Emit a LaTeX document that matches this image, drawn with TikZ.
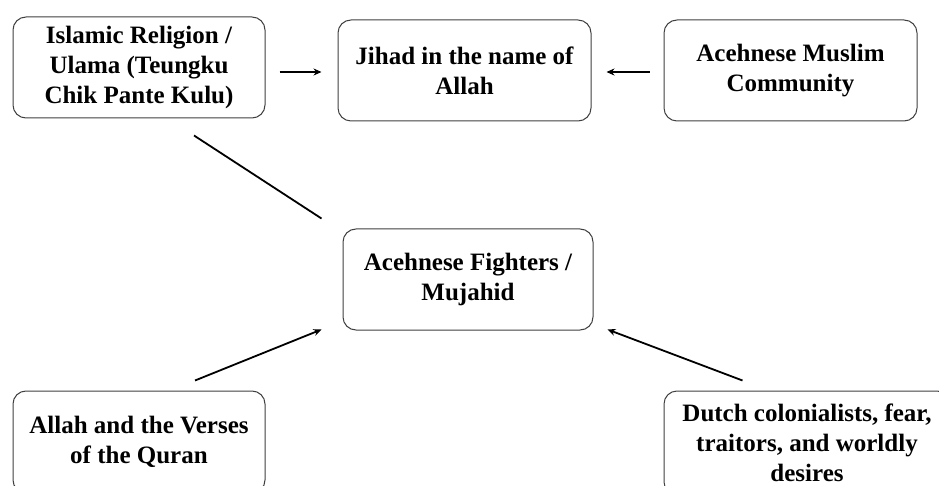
\documentclass[tikz,border=0pt]{standalone}
\usepackage{fontspec}
\setmainfont{Liberation Serif}
\usetikzlibrary{arrows.meta}
\tikzset{
  box/.style={draw=black!75, line width=1pt, rounded corners=13pt, fill=white,
    align=center, inner sep=0pt, font=\bfseries\fontsize{25}{30}\selectfont},
  conn/.style={line width=1.8pt, black},
  arr/.style={conn, -{Stealth[length=8pt,width=7pt]}}
}
\begin{document}
\begin{tikzpicture}
\useasboundingbox (0pt,0pt) rectangle (939pt,-486pt);
\clip (0pt,0pt) rectangle (939pt,-486pt);
\node[box, minimum width=252pt, minimum height=101pt] (A) at (139pt,-67.5pt) {Islamic Religion /\\Ulama (Teungku\\Chik Pante Kulu)};
\node[box, minimum width=253pt, minimum height=101pt] (B) at (464.5pt,-70.5pt) {Jihad in the name of\\Allah};
\node[box, minimum width=253pt, minimum height=101pt] (C) at (790.5pt,-70.5pt) {Acehnese Muslim\\Community};
\node[box, minimum width=250pt, minimum height=101pt] (D) at (468pt,-279.5pt) {Acehnese Fighters /\\Mujahid};
\node[box, minimum width=252pt, minimum height=102pt] (E) at (139pt,-442pt) {Allah and the Verses\\of the Quran};
\node[box, minimum width=286pt, minimum height=104pt] (F) at (807pt,-443pt) {Dutch colonialists, fear,\\traitors, and worldly\\desires};
\draw[arr] ([shift={(14pt,-4.5pt)}]A.east) -- ([shift={(-16pt,-1.5pt)}]B.west);
\draw[arr] ([shift={(-14pt,-1.5pt)}]C.west) -- ([shift={(15pt,-1.5pt)}]B.east);
\draw[conn] ([shift={(55pt,-17pt)}]A.south) -- ([shift={(-21pt,10pt)}]D.north west);
\draw[arr] ([shift={(56pt,10pt)}]E.north) -- ([shift={(-21pt,1pt)}]D.south west);
\draw[arr] ([shift={(79pt,10pt)}]F.north west) -- ([shift={(14pt,1pt)}]D.south east);
\end{tikzpicture}
\end{document}
